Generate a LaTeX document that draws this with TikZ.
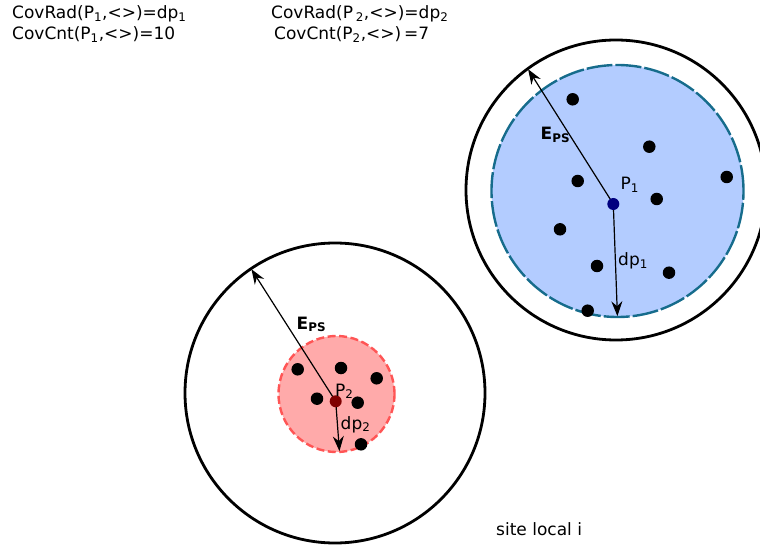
\documentclass[tikz,border=0pt]{standalone}
\usepackage{fontspec}
\setmainfont{DejaVu Sans}
\usetikzlibrary{arrows.meta,positioning}
\definecolor{zoneblue}{RGB}{179,204,255}
\definecolor{zonebluedraw}{RGB}{22,108,140}
\definecolor{zonered}{RGB}{255,170,170}
\definecolor{zonereddraw}{RGB}{255,85,85}
\definecolor{ponecol}{RGB}{0,0,128}
\definecolor{ptwocol}{RGB}{128,0,0}

\begin{document}
\begin{tikzpicture}[x=1pt,y=-1pt,
ring/.style={
circle,
draw,
line width=2.8pt,
inner sep=0pt,
minimum size=300pt
},
cover/.style={circle,draw,line width=2.4pt,inner sep=0pt},
obj/.style={circle,fill=black,inner sep=0pt,minimum size=12.5pt},
centre/.style={circle,inner sep=0pt,minimum size=12pt},
lbl/.style={font=\fontsize{17}{20}\selectfont,inner sep=0pt,anchor=base west},
vec/.style={-{Stealth[length=15pt,width=11pt,inset=5pt]},line width=1.2pt,shorten >=2pt},
]
\useasboundingbox (0,0) rectangle (760,545);

% coverage formulas
\node (rad1) [lbl] at (12,19) {CovRad(P\textsubscript{1},<>)=dp\textsubscript{1}};
\node (cnt1) [lbl] at (12,40) {CovCnt(P\textsubscript{1},<>)=10};
\node (rad2) [lbl] at (271,19) {CovRad(P\,\textsubscript{2},<>)=dp\textsubscript{2}};
\node (cnt2) [lbl] at (274,40) {CovCnt(P\textsubscript{2},<>)\,=7};

% P1
\node (site1) [ring] at (616,190) {};
\node (zone1) [cover,fill=zoneblue,draw=zonebluedraw,dash pattern=on 26pt off 3pt,minimum size=252pt] at (617.5,191) {};
\coordinate (c1) at (613.3,204);
\draw[vec] (c1) -- (site1.126);
\draw[vec] (c1) -- (zone1.south);
\foreach \x/\y [count=\i] in {572.7/99.3,649.3/146.7,577.7/181,726.7/177,656.7/199,560/229.3,597/266,669/272.7,587.7/310.7}
  \node (a\i) [obj] at (\x,\y) {};
\node (p1) [centre,fill=ponecol] at (c1) {};
\node (p1lbl) [lbl] at (620.5,190) {P\textsubscript{1}};
\node (dp1lbl) [lbl] at (618,266) {dp\textsubscript{1}};
\node (eps1) [lbl] at (540.5,140) {\bfseries E\textsubscript{PS}};

% P2
\node (site2) [ring] at (335,393) {};
\node (zone2) [cover,fill=zonered,draw=zonereddraw,dash pattern=on 8pt off 3.5pt,minimum size=116pt] at (336.5,394) {};
\coordinate (c2) at (335.7,401.3);
\draw[vec] (c2) -- (site2.124);
\draw[vec] (c2) -- (zone2.-87);
\foreach \x/\y [count=\i] in {297.7/369.3,341/368,376.7/378.3,317/398.7,357.7/402.7,361/444.3}
  \node (b\i) [obj] at (\x,\y) {};
\node (p2) [centre,fill=ptwocol] at (c2) {};
\node (p2lbl) [lbl] at (335,396) {P\textsubscript{2}};
\node (dp2lbl) [lbl] at (340.5,429) {dp\textsubscript{2}};
\node (eps2) [lbl] at (296.5,329) {\bfseries E\textsubscript{PS}};

\node (site) [lbl] at (496,535) {site local i};
\end{tikzpicture}
\end{document}
